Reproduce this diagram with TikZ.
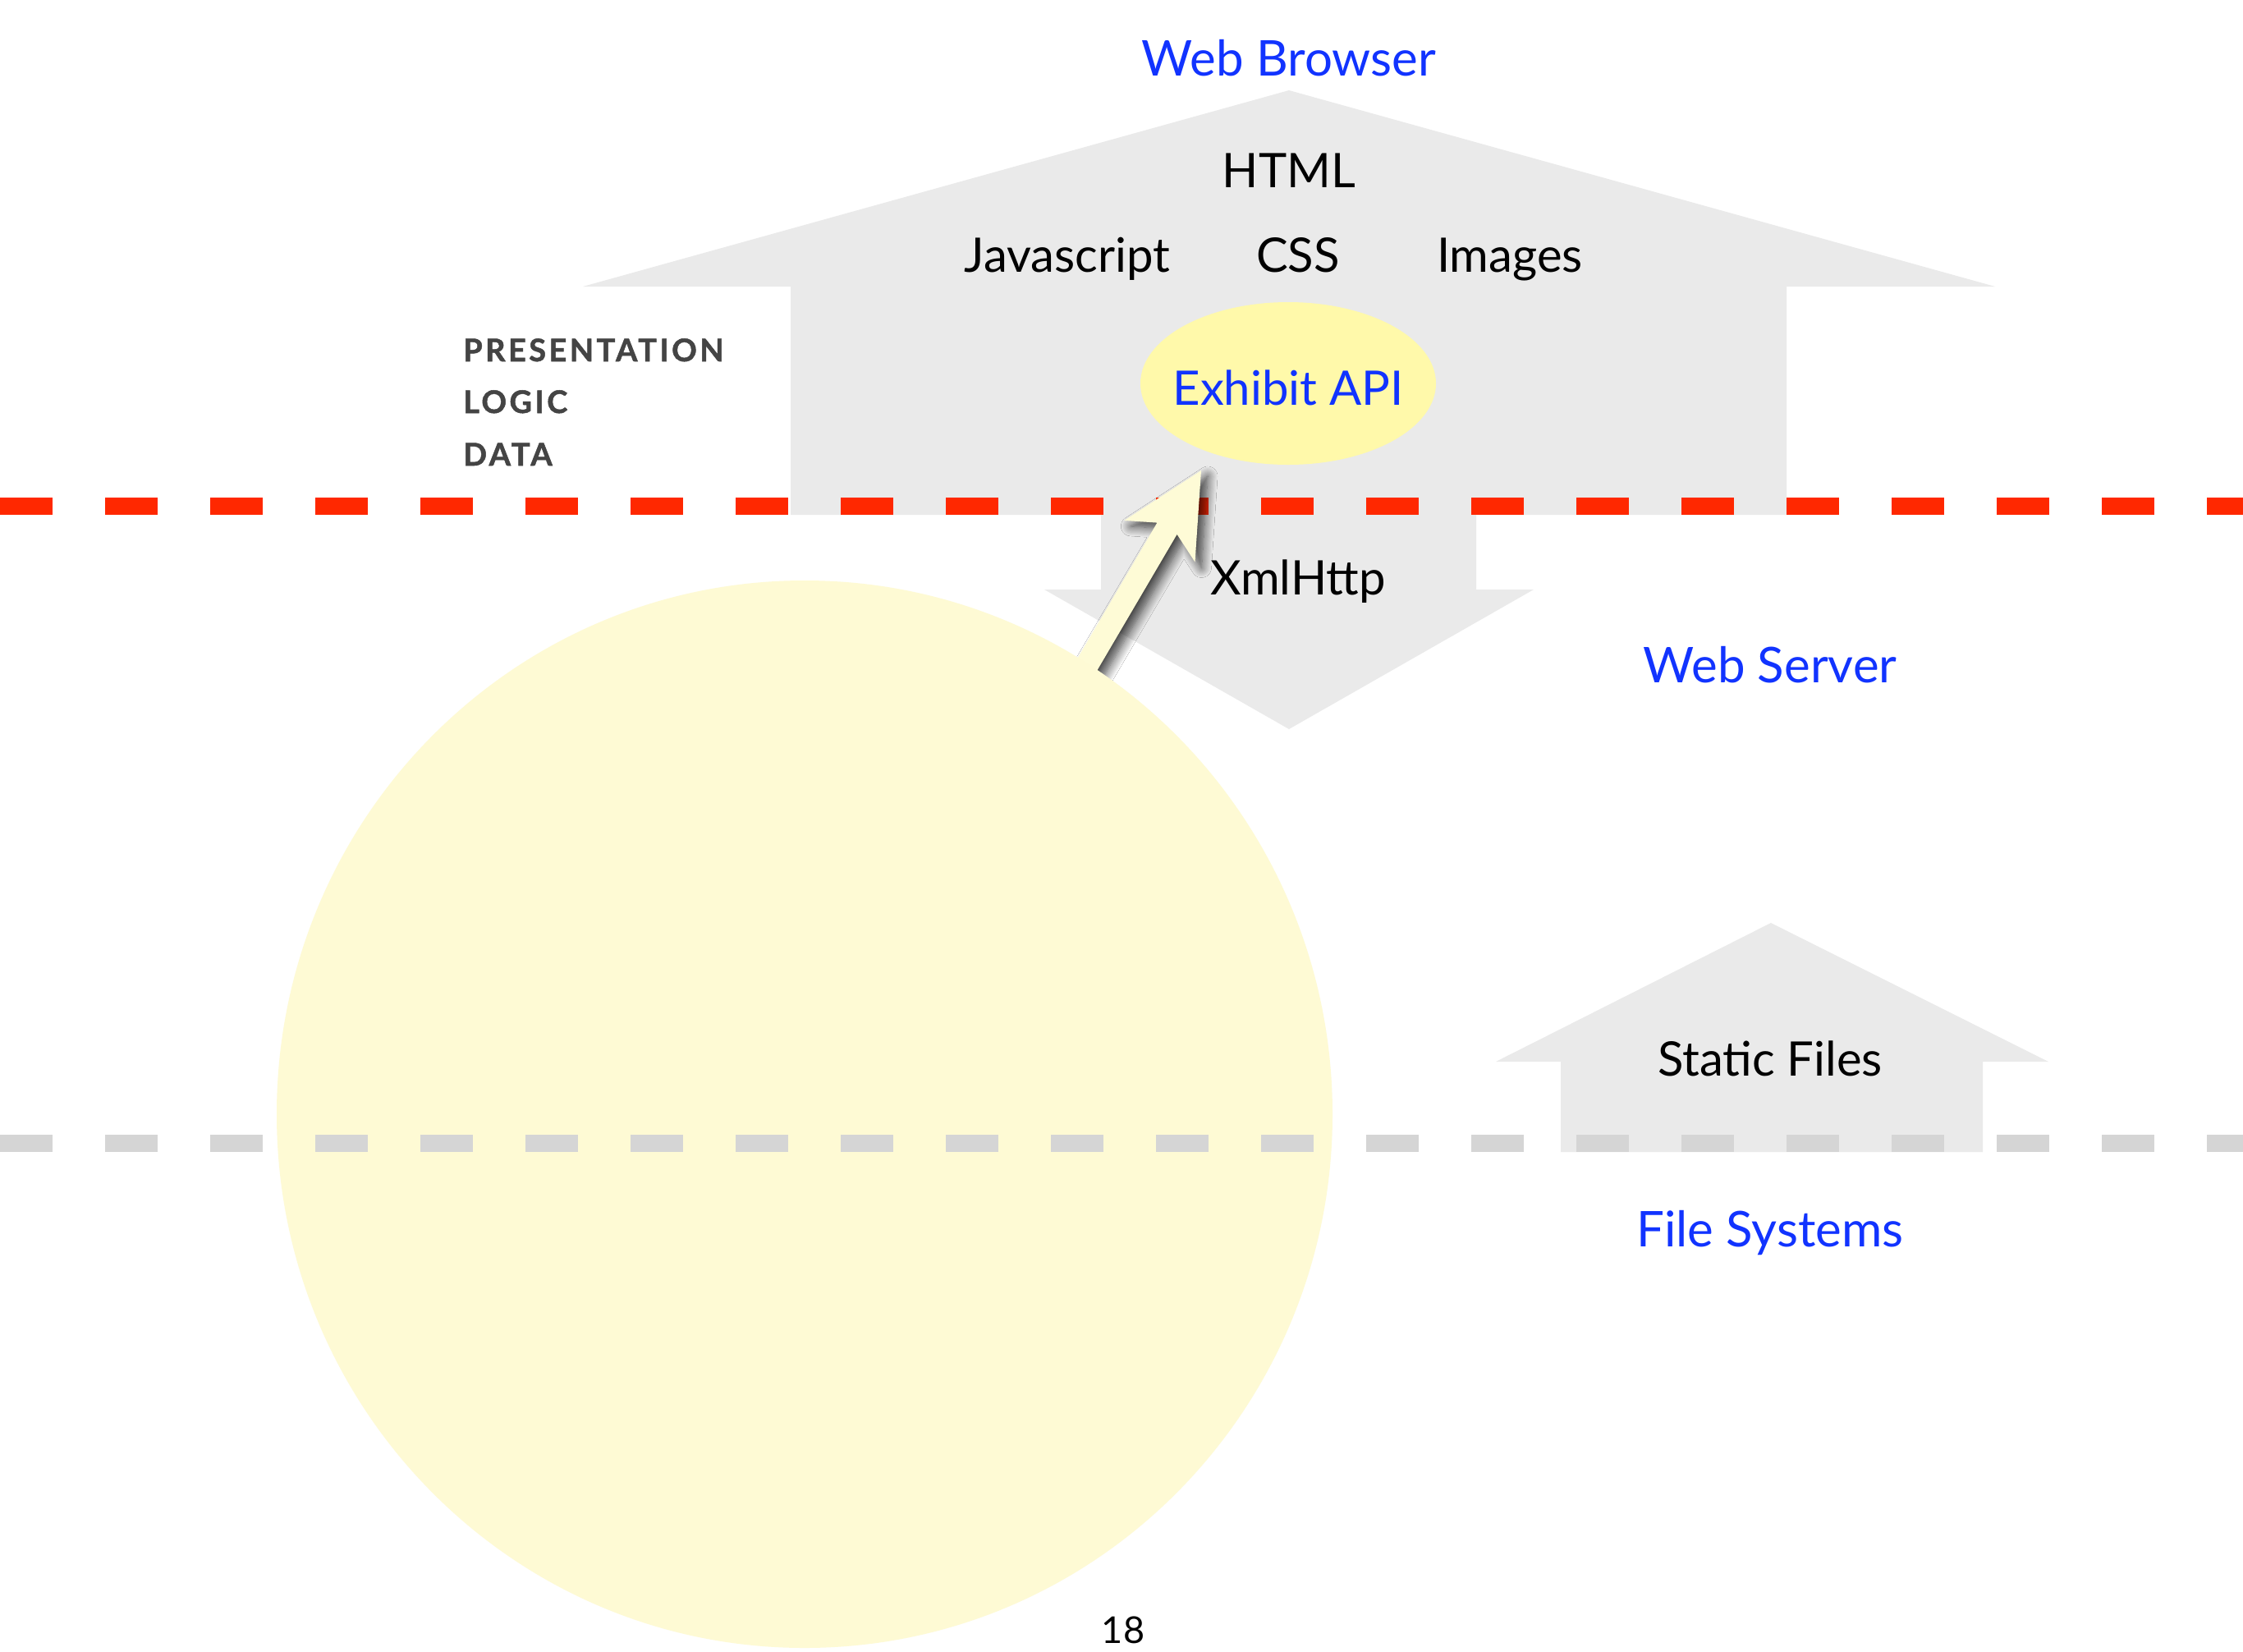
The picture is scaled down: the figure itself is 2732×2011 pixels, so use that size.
\documentclass[tikz,border=0pt]{standalone}
\usepackage{fontspec}
\setmainfont{Lato}
\newfontfamily\layerfont[LetterSpace=9, BoldFeatures={FakeBold=1.3}]{Lato}
\usetikzlibrary{shapes.geometric,shadows.blur}
\definecolor{shapegray}{HTML}{EAEAEA}
\definecolor{dashred}{HTML}{FF2800}
\definecolor{dashgray}{HTML}{D5D5D5}
\definecolor{labelblue}{HTML}{1133FF}
\definecolor{apiyellow}{HTML}{FFF9AA}
\definecolor{circyellow}{HTML}{FEFAD4}
\definecolor{arrowyellow}{HTML}{FEFBD6}
\definecolor{layergray}{HTML}{444444}
\begin{document}
\begin{tikzpicture}[x=1pt,y=-1pt,
  bluelbl/.style={text=labelblue, font=\fontsize{60}{72}\selectfont, anchor=base, inner sep=0pt},
  blacklbl/.style={text=black, font=\fontsize{58}{70}\selectfont, anchor=base, inner sep=0pt},
  layerlbl/.style={text=layergray, font=\layerfont\bfseries\fontsize{38}{46}\selectfont, anchor=base west, inner sep=0pt},
  tierarrow/.style={fill=shapegray},
  reddash/.style={draw=dashred, line width=21pt, dash pattern=on 64pt off 64pt},
  graydash/.style={draw=dashgray, line width=21pt, dash pattern=on 64pt off 64pt}]
\useasboundingbox (0,0) rectangle (2732,2011);
\fill[white] (0,0) rectangle (2732,2011);
% browser tier arrow
\fill[tierarrow] (1570,110) -- (2430,349) -- (2176,349) -- (2176,627) -- (963,627) -- (963,349) -- (710,349) -- cycle;
% XmlHttp down arrow
\fill[tierarrow] (1341,620) -- (1798,620) -- (1798,718) -- (1868,718) -- (1570,888) -- (1272,718) -- (1341,718) -- cycle;
% red dashed boundary
\coordinate (redL) at (0,616);
\coordinate (redR) at (2732,616);
\draw[reddash] (redL) -- (redR);
% Exhibit API ellipse
\node (apishape) [ellipse, fill=apiyellow, minimum width=360pt, minimum height=198pt, inner sep=0pt] at (1569,467) {};
% yellow arrow from circle to API
\coordinate (tip) at (1463,573);
\fill[arrowyellow, blur shadow={shadow xshift=8pt, shadow yshift=-7pt, shadow blur radius=12pt, shadow blur steps=12, shadow opacity=75}]
  (1299.1,824.5) -- (1409.4,636.6) -- (1369.3,633.9) -- (tip) -- (1455.5,684.5) -- (1433.6,650.8) -- (1323.3,838.7) -- cycle;
% big circle
\fill[circyellow] (980,1357) ellipse [x radius=643pt, y radius=650pt];
% static files arrow
\fill[tierarrow] (2157,1124) -- (2495,1293) -- (2415,1293) -- (2415,1403) -- (1901,1403) -- (1901,1293) -- (1822,1293) -- cycle;
% gray dashed boundary
\coordinate (grayL) at (0,1392);
\coordinate (grayR) at (2732,1392);
\draw[graydash] (grayL) -- (grayR);
% labels
\node (wb) [bluelbl] at (1570,92) {Web Browser};
\node (html) [blacklbl] at (1570,228) {HTML};
\node (js) [blacklbl] at (1300,331) {Javascript};
\node (css) [blacklbl] at (1581,331) {CSS};
\node (img) [blacklbl] at (1839,331) {Images};
\node (api) [bluelbl, font=\fontsize{58}{70}\selectfont] at (1569,493) {Exhibit API};
\node (xml) [blacklbl] at (1581,724) {XmlHttp};
\node (ws) [bluelbl] at (2156,831) {Web Server};
\node (sf) [blacklbl] at (2156,1310) {Static Files};
\node (fs) [bluelbl] at (2156,1518) {File Systems};
\node (pres) [layerlbl] at (564,440) {PRESENTATION};
\node (logic) [layerlbl] at (564,503) {LOGIC};
\node (data) [layerlbl] at (564,567) {DATA};
\node (pg) [text=black, font=\fontsize{45}{54}\selectfont, anchor=base, inner sep=0pt] at (1368,2001) {18};
\end{tikzpicture}
\end{document}
